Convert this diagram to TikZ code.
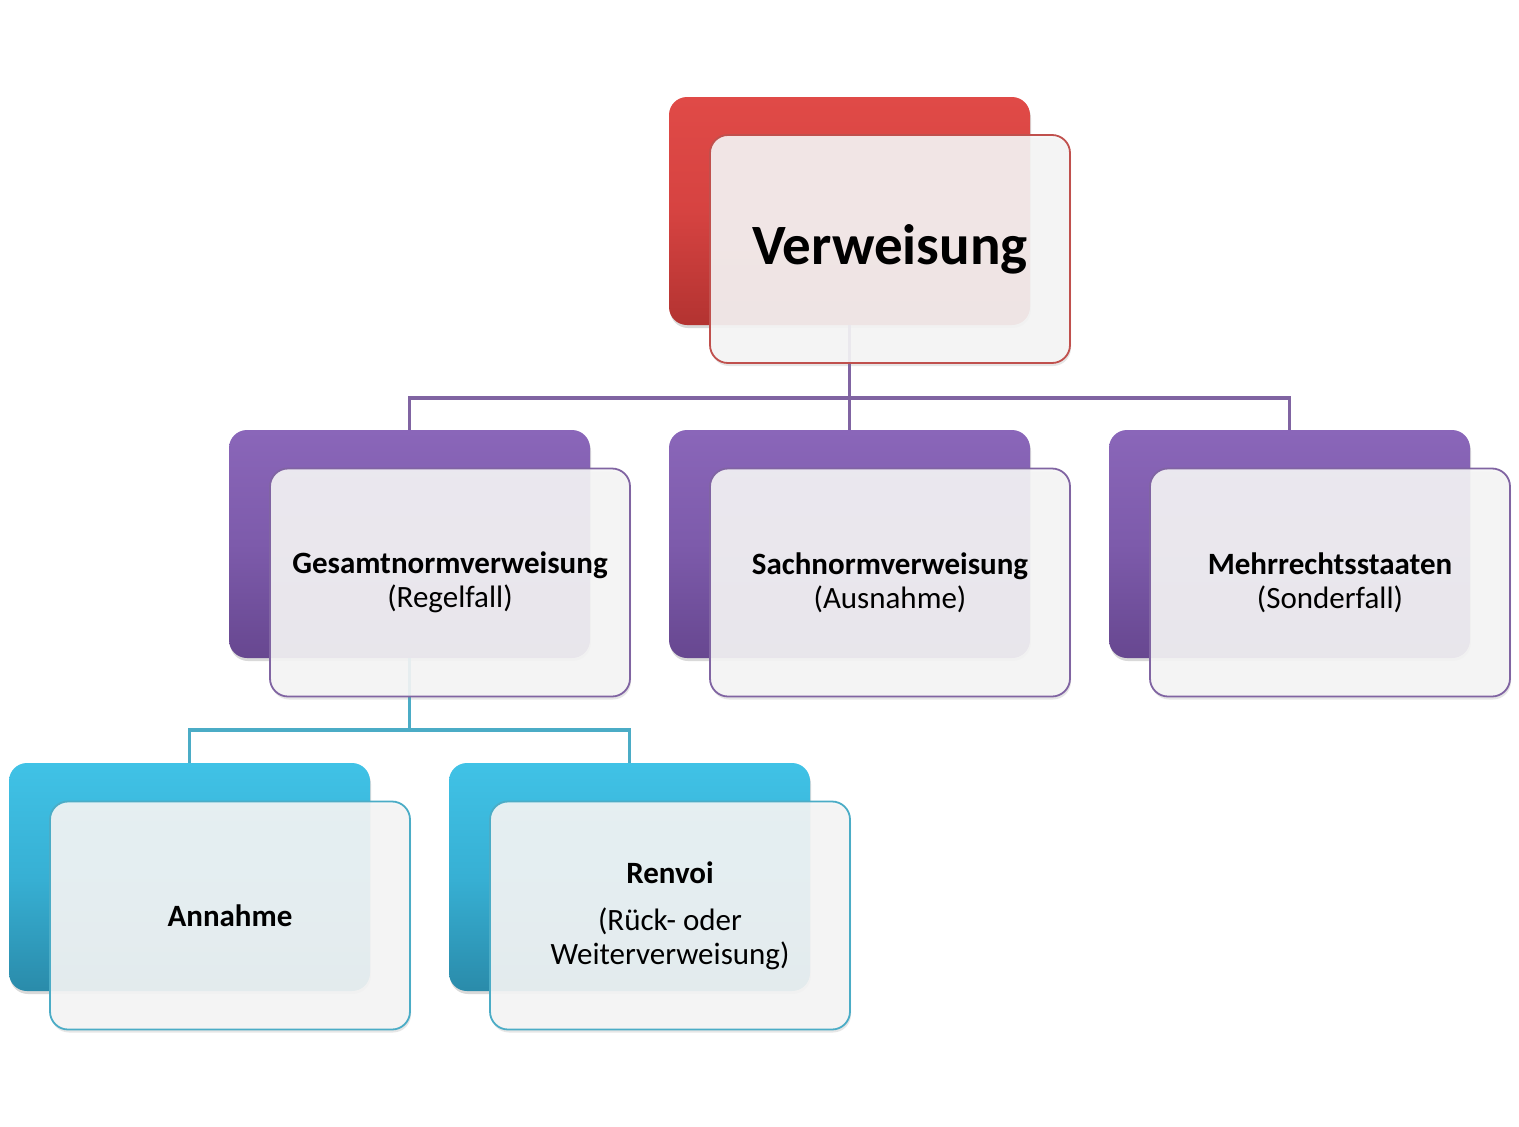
\documentclass[tikz,border=0pt]{standalone}
\usepackage{fontspec}
\setmainfont{Carlito}
\usetikzlibrary{shadows}
\definecolor{redT}{HTML}{E04A47}
\definecolor{redM}{HTML}{D64341}
\definecolor{redB}{HTML}{B33331}
\definecolor{redL}{HTML}{C0504D}
\definecolor{purT}{HTML}{8A66B9}
\definecolor{purM}{HTML}{7D5BAB}
\definecolor{purB}{HTML}{674790}
\definecolor{purL}{HTML}{8064A2}
\definecolor{cyaT}{HTML}{40C2E6}
\definecolor{cyaM}{HTML}{37B0D4}
\definecolor{cyaB}{HTML}{2A8BAA}
\definecolor{cyaL}{HTML}{4BACC6}
\definecolor{frontfill}{HTML}{F6F6F6}
\tikzset{
  backbox/.style n args={3}{rectangle, rounded corners=18pt, minimum width=361pt, minimum height=228pt, inner sep=0pt,
    top color=#1, bottom color=#3, middle color=#2, draw=none,
    drop shadow={opacity=0.3, shadow xshift=1pt, shadow yshift=-3pt}},
  frontbox/.style={rectangle, rounded corners=18pt, minimum width=360pt, minimum height=228pt, inner sep=0pt,
    fill=frontfill, fill opacity=0.9, text opacity=1, draw=#1, line width=1.8pt, align=center,
    font=\fontsize{31}{34}\selectfont,
    drop shadow={opacity=0.2, shadow xshift=1pt, shadow yshift=-3pt}},
  conP/.style={draw=purL, line width=3.2pt},
  conC/.style={draw=cyaL, line width=3.2pt},
}
\begin{document}
\begin{tikzpicture}[x=1pt,y=-1pt]
\useasboundingbox (0,0) rectangle (1519,1127);
\coordinate (j1) at (849.5,398);
\coordinate (j2) at (409.5,730);
\node[backbox={redT}{redM}{redB}] (vb) at (849.5,211) {};
\draw[conP] (vb.south) -- (j1);
\node[backbox={purT}{purM}{purB}] (gb) at (409.5,544) {};
\node[backbox={purT}{purM}{purB}] (sb) at (849.5,544) {};
\node[backbox={purT}{purM}{purB}] (mb) at (1289.5,544) {};
\draw[conP] (gb.north) |- (j1) -| (mb.north);
\draw[conP] (j1) -- (sb.north);
\draw[conC] (gb.south) -- (j2);
\node[backbox={cyaT}{cyaM}{cyaB}] (ab) at (189.5,877) {};
\node[backbox={cyaT}{cyaM}{cyaB}] (rb) at (629.5,877) {};
\draw[conC] (ab.north) |- (j2) -| (rb.north);
\node[frontbox=redL, font=\fontsize{57}{60}\selectfont\bfseries] (vf) at (890,249) {Verweisung};
\node[frontbox=purL] (gf) at (450,582.5) {\textbf{Gesamtnormverweisung}\\(Regelfall)};
\node[frontbox=purL] (sf) at (890,582.5) {\textbf{Sachnormverweisung}\\(Ausnahme)};
\node[frontbox=purL] (mf) at (1330,582.5) {\textbf{Mehrrechtsstaaten}\\(Sonderfall)};
\node[frontbox=cyaL] (af) at (230,915.5) {\textbf{Annahme}};
\node[frontbox=cyaL] (rf) at (670,915.5) {\textbf{Renvoi}\\[13pt](Rück- oder\\Weiterverweisung)};
\end{tikzpicture}
\end{document}
